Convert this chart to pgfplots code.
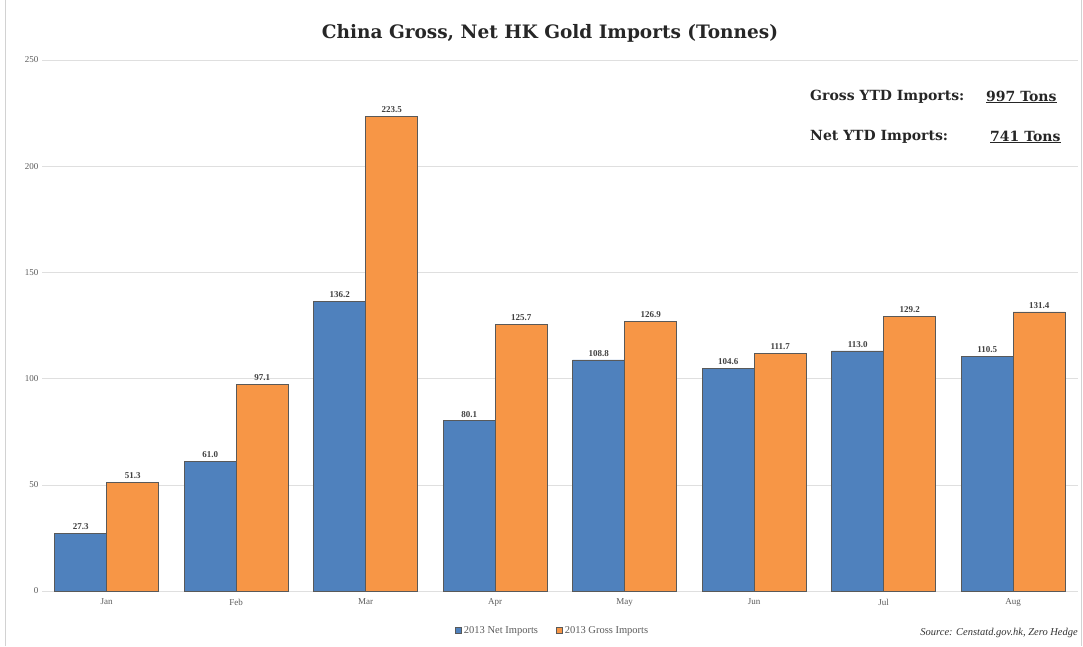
\documentclass[border=0pt]{standalone}
\usepackage{fontspec}
\setmainfont{Liberation Serif}
\newfontfamily\djs{DejaVu Serif}
\usepackage{pgfplots}
\pgfplotsset{compat=1.18}
\definecolor{netblue}{RGB}{79,129,189}
\definecolor{grossor}{RGB}{247,150,70}
\definecolor{txt}{RGB}{90,90,90}
\begin{document}
\begin{tikzpicture}[x=1pt,y=1pt]
\useasboundingbox (0,0) rectangle (1083,646);
\draw[gray!35] (5,0) -- (5,646);
\draw[gray!35] (1081,0) -- (1081,646);
\begin{axis}[at={(42pt,55pt)}, anchor=south west, scale only axis,
  width=1036pt, height=531pt,
  ymin=0, ymax=250, xmin=-0.5, xmax=7.5,
  ybar=0pt, bar width=52pt,
  axis line style={draw=none}, tick style={draw=none},
  ymajorgrids, grid style={gray!25, line width=0.6pt},
  ytick={0,50,...,250},
  xtick=data, xticklabels={Jan,Feb,Mar,Apr,May,Jun,Jul,Aug},
  /pgf/number format/assume math mode=true,
  tick label style={font=\fontsize{9}{10}\selectfont, text=txt},
  nodes near coords,
  every node near coord/.append style={font=\fontsize{9}{10}\selectfont\bfseries, text=black!75,
    /pgf/number format/fixed, /pgf/number format/fixed zerofill, /pgf/number format/precision=1,
    /pgf/number format/assume math mode=true},
  legend style={at={(0.493,-0.075)}, anchor=center, draw=none, fill=none,
    font=\fontsize{10.5}{11}\selectfont, text=txt, legend columns=2,
    /tikz/every even column/.append style={column sep=16pt}},
  legend image code/.code={\draw[#1] (0pt,-3pt) rectangle (6pt,3pt);},
]
\addplot[fill=netblue, draw=black!65, line width=0.8pt] coordinates {(0,27.3) (1,61.0) (2,136.2) (3,80.1) (4,108.8) (5,104.6) (6,113.0) (7,110.5)};
\addplot[fill=grossor, draw=black!65, line width=0.8pt] coordinates {(0,51.3) (1,97.1) (2,223.5) (3,125.7) (4,126.9) (5,111.7) (6,129.2) (7,131.4)};
\legend{2013 Net Imports, 2013 Gross Imports}
\end{axis}
\node[font=\djs\fontsize{18.5}{20}\selectfont\bfseries, text=black!85] at (550,613) {China Gross, Net HK Gold Imports (Tonnes)};
\node[anchor=west, font=\djs\fontsize{14}{15}\selectfont\bfseries, text=black!85, inner sep=0pt] at (810,549) {Gross YTD Imports:};
\node[anchor=west, font=\djs\fontsize{14}{15}\selectfont\bfseries, text=black!85, inner sep=0pt] at (986,549) {\underline{997 Tons}};
\node[anchor=west, font=\djs\fontsize{14}{15}\selectfont\bfseries, text=black!85, inner sep=0pt] at (810,509) {Net YTD Imports:};
\node[anchor=west, font=\djs\fontsize{14}{15}\selectfont\bfseries, text=black!85, inner sep=0pt] at (990,509) {\underline{741 Tons}};
\node[anchor=east, font=\fontsize{10.5}{11}\selectfont\itshape, text=black!80, inner sep=0pt] at (1078,13) {Source: Censtatd.gov.hk, Zero Hedge};
\end{tikzpicture}
\end{document}
